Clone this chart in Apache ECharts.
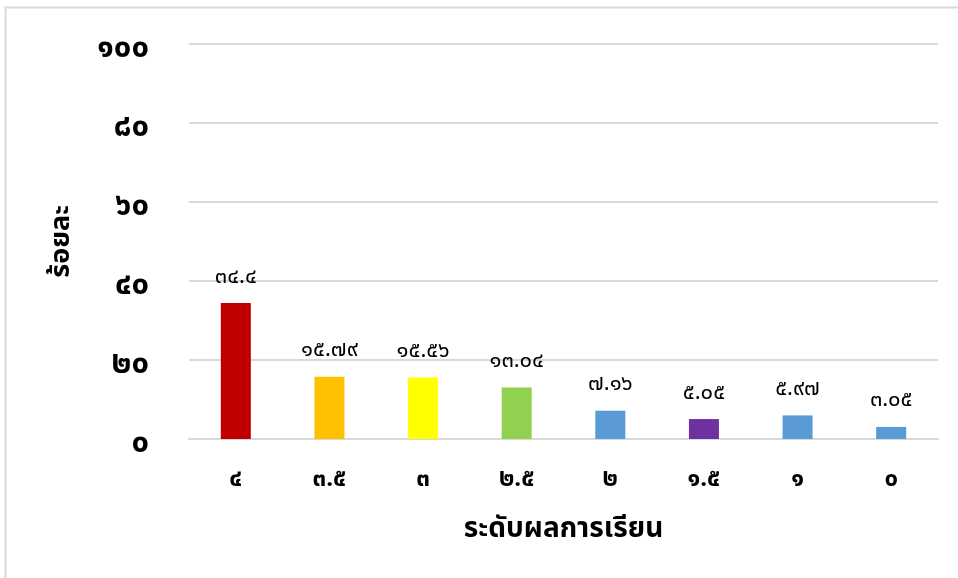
<!DOCTYPE html>
<html>
<head>
<meta charset="utf-8">
<script src="https://cdn.jsdelivr.net/npm/echarts@6/dist/echarts.min.js"></script>
<style>
  html, body { margin: 0; padding: 0; background: #fff; }
  #chart { width: 958px; height: 578px; }
</style>
</head>
<body>
<div id="chart"></div>
<script>
// ระดับผลการเรียน
var categories = ["๔", "๓.๕", "๓", "๒.๕", "๒", "๑.๕", "๑", "๐"];
var values = [34.4, 15.79, 15.56, 13.04, 7.16, 5.05, 5.97, 3.05];
var valueLabels = ["๓๔.๔", "๑๕.๗๙", "๑๕.๕๖", "๑๓.๐๔", "๗.๑๖", "๕.๐๕", "๕.๙๗", "๓.๐๕"];
var barColors = ["#C00000", "#FFC000", "#FFFF00", "#92D050", "#5B9BD5", "#7030A0", "#5B9BD5", "#5B9BD5"];
var yTicks = { 0: "๐", 20: "๒๐", 40: "๔๐", 60: "๖๐", 80: "๘๐", 100: "๑๐๐" };

var thaiFont = "Tahoma, 'Noto Sans Thai', 'Noto Sans', sans-serif";

var data = [];
for (var i = 0; i < values.length; i++) {
  data.push({
    value: values[i],
    itemStyle: { color: barColors[i] },
    label: { formatter: valueLabels[i] }
  });
}

var option = {
  backgroundColor: "#fff",
  animation: false,
  graphic: [{
    type: "rect",
    shape: { x: 5.5, y: 7.5, width: 1000, height: 1000 },
    style: { fill: "none", stroke: "#d9d9d9", lineWidth: 2 },
    silent: true
  }],
  grid: { left: 189, right: 20, top: 44, bottom: 139 },
  xAxis: {
    type: "category",
    data: categories,
    name: "ระดับผลการเรียน",
    nameLocation: "middle",
    nameGap: 78,
    nameTextStyle: { fontFamily: thaiFont, fontSize: 28, fontWeight: "bold", color: "#000" },
    axisLine: { show: true, lineStyle: { color: "#d9d9d9", width: 2 } },
    axisTick: { show: false },
    axisLabel: {
      margin: 30,
      fontFamily: thaiFont,
      fontSize: 24,
      fontWeight: "bold",
      color: "#000"
    }
  },
  yAxis: {
    type: "value",
    min: 0,
    max: 100,
    interval: 20,
    name: "ร้อยละ",
    nameLocation: "middle",
    nameGap: 112,
    nameRotate: 90,
    nameTextStyle: { fontFamily: thaiFont, fontSize: 27, fontWeight: "bold", color: "#000" },
    axisLine: { show: false },
    axisTick: { show: false },
    splitLine: { lineStyle: { color: "#d9d9d9", width: 2 } },
    axisLabel: {
      margin: 40,
      color: "#000",
      formatter: function (v) { return "{t|" + yTicks[v] + "}"; },
      rich: {
        t: {
          fontFamily: thaiFont,
          fontSize: 31,
          fontWeight: "bold",
          color: "#000",
          padding: [14, 0, 0, 0]
        }
      }
    }
  },
  series: [{
    type: "bar",
    data: data,
    barWidth: 30,
    label: {
      show: true,
      position: "top",
      distance: 14,
      fontFamily: thaiFont,
      fontSize: 22,
      color: "#000"
    }
  }]
};

var myChart = echarts.init(document.getElementById("chart"));
myChart.setOption(option);
</script>
</body>
</html>
